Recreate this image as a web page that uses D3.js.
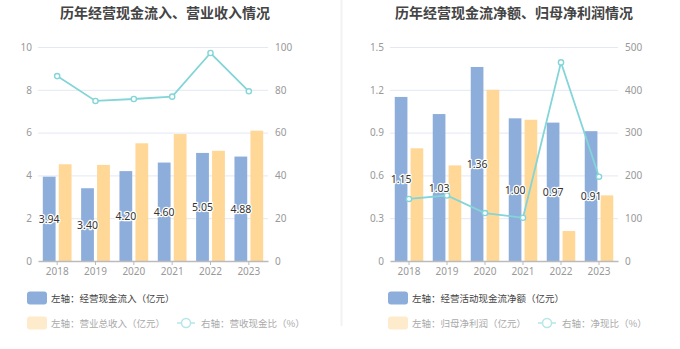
<!DOCTYPE html>
<html><head><meta charset="utf-8">
<script src="https://cdn.jsdelivr.net/npm/d3@7"></script>
<style>
html,body{margin:0;padding:0;background:#fff;}
svg{display:block;font-family:"Noto Sans CJK SC","Noto Sans",sans-serif;}
</style></head>
<body>
<svg id="c" width="680" height="349"></svg>
<script>
const years = ["2018","2019","2020","2021","2022","2023"];
// left chart
const cashInflow = [3.94, 3.40, 4.20, 4.60, 5.05, 4.88];
const revenue = [4.52, 4.49, 5.50, 5.93, 5.15, 6.09];
const cashRevRatio = [86.4, 74.8, 75.7, 76.8, 97.2, 79.3];
const leftTicksL = [0, 2, 4, 6, 8, 10];
const rightTicksL = [0, 20, 40, 60, 80, 100];
// right chart
const netCashFlow = [1.15, 1.03, 1.36, 1.00, 0.97, 0.91];
const netProfit = [0.79, 0.67, 1.20, 0.99, 0.21, 0.46];
const netCashRatio = [145, 153, 112, 101, 464, 197];
const leftTicksR = [0, 0.3, 0.6, 0.9, 1.2, 1.5];
const rightTicksR = [0, 100, 200, 300, 400, 500];

const titles = ["历年经营现金流入、营业收入情况", "历年经营现金流净额、归母净利润情况"];
const legends = [
  ["左轴：经营现金流入（亿元）", "左轴：营业总收入（亿元）", "右轴：营收现金比（%）"],
  ["左轴：经营活动现金流净额（亿元）", "左轴：归母净利润（亿元）", "右轴：净现比（%）"]
];

const BLUE = "#8DADDB", ORANGE = "#FFD797", LINE = "#83D5D8";
const svg = d3.select("#c");

// divider
svg.append("line").attr("x1", 341.5).attr("x2", 341.5).attr("y1", 0).attr("y2", 326)
  .attr("stroke", "#f2f2f2").attr("stroke-width", 2);

function panel(cfg) {
  const g = svg.append("g");
  const x = d3.scaleBand().domain(years).range([cfg.x0, cfg.x1]).padding(0);
  const x1 = d3.scaleBand().domain(["a", "b"]).range([0, x.bandwidth()]).paddingInner(0.2).paddingOuter(0.3);
  const yL = d3.scaleLinear().domain([0, d3.max(cfg.lt)]).range([261, 47]);
  const yR = d3.scaleLinear().domain([0, d3.max(cfg.rt)]).range([261, 47]);

  // title
  g.append("text").attr("x", cfg.tx).attr("y", 18).attr("text-anchor", "middle")
    .attr("font-size", 14).attr("font-weight", "bold").attr("fill", "#444").text(cfg.title);

  // grid
  g.selectAll(".grid").data(cfg.lt.slice(1)).join("line")
    .attr("x1", cfg.x0).attr("x2", cfg.x1)
    .attr("y1", d => yL(d) + 0.5).attr("y2", d => yL(d) + 0.5)
    .attr("stroke", "#E3E8F2").attr("stroke-width", 1);

  // left axis labels
  const la = g.append("g").attr("transform", `translate(${cfg.x0},0)`)
    .call(d3.axisLeft(yL).tickValues(cfg.lt).tickSize(0).tickPadding(6).tickFormat(d => String(d)));
  la.select(".domain").remove();
  la.selectAll("text").attr("fill", "#999").attr("font-size", 10).attr("font-family", "'Noto Sans','Noto Sans CJK SC',sans-serif");

  const ra = g.append("g").attr("transform", `translate(${cfg.x1},0)`)
    .call(d3.axisRight(yR).tickValues(cfg.rt).tickSize(0).tickPadding(7).tickFormat(d => String(d)));
  ra.select(".domain").remove();
  ra.selectAll("text").attr("fill", "#999").attr("font-size", 10).attr("font-family", "'Noto Sans','Noto Sans CJK SC',sans-serif");

  // bars
  const bars = g.append("g");
  bars.selectAll(".b1").data(years).join("rect")
    .attr("x", d => x(d) + x1("a")).attr("width", x1.bandwidth())
    .attr("y", (d, i) => yL(cfg.s1[i])).attr("height", (d, i) => 261 - yL(cfg.s1[i]))
    .attr("fill", BLUE);
  bars.selectAll(".b2").data(years).join("rect")
    .attr("x", d => x(d) + x1("b")).attr("width", x1.bandwidth())
    .attr("y", (d, i) => yL(cfg.s2[i])).attr("height", (d, i) => 261 - yL(cfg.s2[i]))
    .attr("fill", ORANGE);

  // x axis
  const xa = g.append("g").attr("transform", "translate(0,261)")
    .call(d3.axisBottom(x).tickSize(4).tickSizeOuter(0).tickPadding(3));
  xa.select(".domain").attr("stroke", "#bbb").attr("stroke-width", 1.5);
  xa.selectAll(".tick line").attr("stroke", "#bbb");
  xa.selectAll("text").attr("fill", "#999").attr("font-size", 10).attr("font-family", "'Noto Sans','Noto Sans CJK SC',sans-serif");

  // line
  const line = d3.line().x((d, i) => x(years[i]) + x.bandwidth() / 2).y(d => yR(d));
  g.append("path").datum(cfg.s3).attr("d", line).attr("fill", "none")
    .attr("stroke", LINE).attr("stroke-width", 1.8);
  g.selectAll(".pt").data(cfg.s3).join("circle")
    .attr("cx", (d, i) => x(years[i]) + x.bandwidth() / 2).attr("cy", d => yR(d))
    .attr("r", 2.6).attr("fill", "#fff").attr("stroke", LINE).attr("stroke-width", 1.4);

  // bar labels
  g.selectAll(".lbl").data(cfg.s1).join("text")
    .attr("x", (d, i) => x(years[i]) + x1("a") + x1.bandwidth() / 2)
    .attr("y", d => (yL(d) + 261) / 2 + 4)
    .attr("text-anchor", "middle").attr("font-size", 10.5)
    .attr("font-family", "'Noto Sans',sans-serif")
    .attr("fill", "#333").attr("stroke", "#fff").attr("stroke-width", 2.5)
    .attr("paint-order", "stroke").attr("stroke-linejoin", "round")
    .text(d => d.toFixed(2));

  // legend
  const lg = g.append("g").attr("font-size", 9.5);
  lg.append("rect").attr("x", cfg.lx).attr("y", 291.5).attr("width", 20).attr("height", 13).attr("rx", 3).attr("fill", BLUE);
  lg.append("text").attr("x", cfg.lx + 24).attr("y", 301.5).attr("fill", "#444").text(cfg.leg[0]);
  lg.append("rect").attr("x", cfg.lx).attr("y", 316.5).attr("width", 20).attr("height", 13).attr("rx", 3).attr("fill", "#FEEBCB");
  const t2 = lg.append("text").attr("x", cfg.lx + 24).attr("y", 326.5).attr("fill", "#aaa").text(cfg.leg[1]);
  const w2 = t2.node().getComputedTextLength();
  const ix = cfg.lx + 24 + w2 + 12;
  lg.append("line").attr("x1", ix).attr("x2", ix + 18).attr("y1", 323).attr("y2", 323).attr("stroke", "#B5E6E8").attr("stroke-width", 1.5);
  lg.append("circle").attr("cx", ix + 9).attr("cy", 323).attr("r", 4.5).attr("fill", "#fff").attr("stroke", "#B5E6E8").attr("stroke-width", 1.5);
  lg.append("text").attr("x", ix + 24).attr("y", 326.5).attr("fill", "#aaa").text(cfg.leg[2]);
}

panel({x0: 38, x1: 268, tx: 165, title: titles[0], lt: leftTicksL, rt: rightTicksL,
  s1: cashInflow, s2: revenue, s3: cashRevRatio, lx: 27, leg: legends[0]});
panel({x0: 390, x1: 618, tx: 514, title: titles[1], lt: leftTicksR, rt: rightTicksR,
  s1: netCashFlow, s2: netProfit, s3: netCashRatio, lx: 388, leg: legends[1]});
</script>
</body></html>
